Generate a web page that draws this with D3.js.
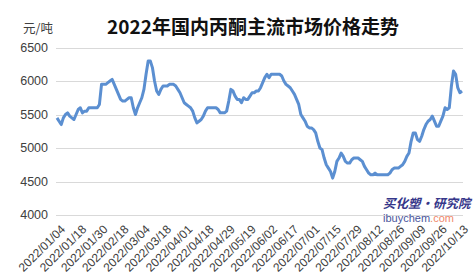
<!DOCTYPE html>
<html lang="zh">
<head>
<meta charset="utf-8">
<title>2022年国内丙酮主流市场价格走势</title>
<script src="https://d3js.org/d3.v7.min.js"></script>
<style>
    body { margin: 0; background: #fff; }
    svg { display: block; }
    .grid line { stroke: #d9d9d9; stroke-width: 1px; }
    .price { fill: none; stroke: #5b8fd1; stroke-width: 3px; stroke-linejoin: round; }
    .ylab, .xlab { font-family: "Liberation Sans", Arial, sans-serif; fill: #404040; }
</style>
</head>
<body>
<div id="chart"></div>
<script>
    var WIDTH = 473, HEIGHT = 279;

    // tick labels shown on the category axis (every 10th point)
    var xLabels = ["2022/01/04", "2022/01/18", "2022/01/30", "2022/02/18", "2022/03/04",
        "2022/03/18", "2022/04/01", "2022/04/18", "2022/04/29", "2022/05/19",
        "2022/06/02", "2022/06/17", "2022/07/01", "2022/07/15", "2022/07/29",
        "2022/08/12", "2022/08/26", "2022/09/09", "2022/09/26", "2022/10/13"];
    var LABEL_STEP = 10;

    var yTicks = [4000, 4500, 5000, 5500, 6000, 6500];

    // acetone price, yuan/ton, one value per trading day
    var prices = [
        5450, 5400, 5350, 5450, 5500, 5525, 5475, 5450, 5425, 5500,
        5575, 5600, 5525, 5550, 5550, 5600, 5600, 5600, 5600, 5600,
        5650, 5950, 5950, 5950, 5975, 6000, 6025, 5950, 5875, 5800,
        5725, 5700, 5700, 5725, 5750, 5750, 5600, 5500, 5600, 5675,
        5750, 5875, 6100, 6300, 6300, 6200, 6000, 5850, 5800, 5875,
        5925, 5925, 5925, 5950, 5950, 5950, 5925, 5875, 5825, 5750,
        5675, 5650, 5625, 5600, 5550, 5450, 5375, 5400, 5425, 5475,
        5550, 5600, 5600, 5600, 5600, 5600, 5575, 5525, 5525, 5525,
        5550, 5700, 5875, 5850, 5775, 5725, 5725, 5675, 5750, 5725,
        5725, 5775, 5825, 5825, 5850, 5850, 5900, 5975, 6050, 6100,
        6050, 6100, 6100, 6100, 6100, 6100, 6075, 6000, 5950, 5925,
        5900, 5850, 5800, 5725, 5650, 5500, 5450, 5400, 5325, 5300,
        5300, 5275, 5225, 5100, 5000, 4975, 4850, 4750, 4700, 4650,
        4550, 4650, 4800, 4850, 4925, 4875, 4800, 4775, 4775, 4825,
        4850, 4850, 4850, 4825, 4800, 4725, 4675, 4625, 4600, 4600,
        4625, 4600, 4600, 4600, 4600, 4600, 4600, 4625, 4675, 4700,
        4700, 4700, 4725, 4750, 4800, 4875, 4925, 5100, 5225, 5225,
        5125, 5100, 5175, 5275, 5350, 5400, 5425, 5475, 5400, 5325,
        5325, 5400, 5475, 5600, 5575, 5600, 5925, 6150, 6100, 5900,
        5825, 5850
    ];

    var svg = d3.select("#chart")
        .append("svg")
        .attr("width", WIDTH)
        .attr("height", HEIGHT);

    var x = d3.scaleLinear()
        .domain([0, prices.length - 1])
        .range([57, 462]);
    var y = d3.scaleLinear()
        .domain([4000, 6500])
        .range([215, 47.5]);

    // title + unit
    svg.append("text")
        .attr("x", 253)
        .attr("y", 34)
        .attr("text-anchor", "middle")
        .style("font-family", "'Noto Sans CJK SC', sans-serif")
        .style("font-weight", "bold")
        .style("font-size", "19px")
        .style("fill", "#111")
        .text("2022年国内丙酮主流市场价格走势");

    svg.append("text")
        .attr("x", 23)
        .attr("y", 33)
        .style("font-family", "'Noto Sans CJK SC', sans-serif")
        .style("font-size", "12.5px")
        .style("fill", "#404040")
        .text("元/吨");

    // gridlines
    svg.append("g").attr("class", "grid")
        .selectAll("line")
        .data(yTicks)
        .enter().append("line")
        .attr("x1", 56).attr("x2", 463)
        .attr("y1", d => Math.round(y(d)) + 0.5)
        .attr("y2", d => Math.round(y(d)) + 0.5);

    svg.selectAll(".ylab")
        .data(yTicks)
        .enter().append("text")
        .attr("class", "ylab")
        .attr("x", 48)
        .attr("y", d => y(d))
        .attr("dy", "0.35em")
        .attr("text-anchor", "end")
        .style("font-size", "12.5px")
        .text(d => d);

    // rotated category labels
    svg.selectAll(".xlab")
        .data(xLabels)
        .enter().append("text")
        .attr("class", "xlab")
        .attr("text-anchor", "end")
        .attr("transform", (d, i) => "translate(" + (x(i * LABEL_STEP) + 6) + ",227) rotate(-45)")
        .attr("dy", "0.35em")
        .style("font-size", "12px")
        .text(d => d);

    var line = d3.line()
        .x((d, i) => x(i))
        .y(d => y(d));

    svg.append("path")
        .attr("class", "price")
        .attr("d", line(prices));

    // watermark
    svg.append("text")
        .attr("x", 383)
        .attr("y", 208)
        .style("font-family", "'Noto Sans CJK SC', sans-serif")
        .style("font-weight", "bold")
        .style("font-style", "italic")
        .style("font-size", "12.5px")
        .style("fill", "#36378a")
        .text("买化塑·研究院");

    var wm = svg.append("text")
        .attr("x", 383)
        .attr("y", 222)
        .style("font-family", "'Liberation Sans', Arial, sans-serif")
        .style("font-size", "11px");
    wm.append("tspan").style("fill", "#4a559c").text("ibuychem");
    wm.append("tspan").style("fill", "#f0876a").text(".com");
</script>
</body>
</html>
